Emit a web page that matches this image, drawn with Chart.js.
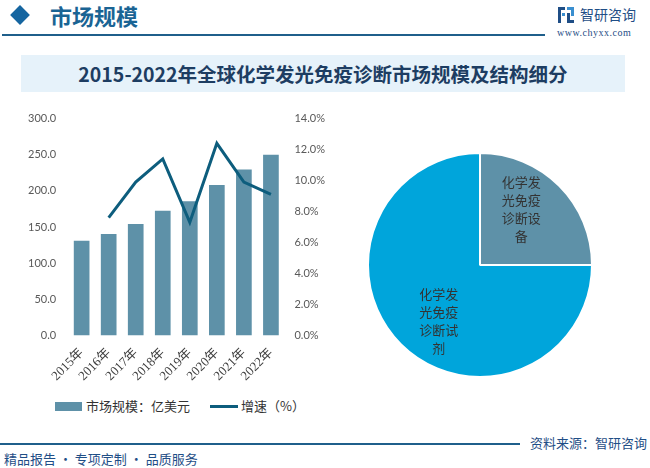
<!DOCTYPE html>
<html>
<head>
<meta charset="utf-8">
<script src="https://cdn.jsdelivr.net/npm/chart.js@4/dist/chart.umd.min.js"></script>
<style>
    body { margin: 0; width: 650px; height: 468px; background: #fff; position: relative; overflow: hidden; font-family: 'Noto Sans CJK SC', sans-serif; }
    .abs { position: absolute; }
    #diamond { left: 13px; top: 8px; width: 14px; height: 14px; background: #1565a0; transform: rotate(45deg); }
    #head { left: 50px; top: 0px; font-size: 22px; font-weight: bold; color: #1a6494; line-height: 30px; }
    #headLine { left: 2px; top: 34px; width: 543px; height: 2px; background: #1f5f8b; }
    #logoText { left: 580px; top: 4px; font-size: 14px; color: #1f4e86; line-height: 20px; }
    #logoUrl { left: 557px; top: 27px; font-size: 10px; font-family: 'Liberation Serif', serif; color: #1f4e86; letter-spacing: 0.5px; }
    #titleBox { left: 21px; top: 55px; width: 604px; height: 37px; background: #e6f2fa; }
    #title { left: 21px; top: 55px; width: 604px; height: 37px; line-height: 37px; text-align: center; font-size: 19.5px; font-weight: bold; color: #1d3d62; }
    #footLine { left: 0px; top: 443px; width: 520px; height: 2px; background: #1f5f8b; }
    #source { left: 530px; top: 433px; font-size: 13px; color: #1f4e86; line-height: 20px; }
    #slogan { left: 4px; top: 450px; font-size: 13px; color: #1f4e86; line-height: 18px; }
    #barWrap { left: 0px; top: 100px; width: 340px; height: 286px; }
    #pieWrap { left: 360px; top: 145px; width: 240px; height: 240px; }
    #legend { left: 55px; top: 396px; font-size: 13px; color: #333; line-height: 18px; white-space: nowrap; }
    #legend span.item { display: inline-block; vertical-align: middle; }
    #legend .box { width: 27px; height: 9px; background: #5e91a8; margin-right: 4px; }
    #legend .line { width: 28px; height: 3px; background: #0d5d7d; margin-left: 20px; margin-right: 3px; }
</style>
</head>
<body>
<div class="abs" id="diamond"></div>
<div class="abs" id="head">市场规模</div>
<div class="abs" id="headLine"></div>
<svg class="abs" style="left:558px;top:7px" width="16" height="16" viewBox="0 0 16 16">
    <rect x="0" y="0" width="7" height="3" fill="#1f4e86"/>
    <rect x="0" y="0" width="3" height="16" fill="#1f4e86"/>
    <rect x="4" y="6" width="3" height="3" fill="#3a8fd0"/>
    <rect x="9" y="0" width="7" height="3" fill="#3a8fd0"/>
    <rect x="13" y="0" width="3" height="9" fill="#3a8fd0"/>
    <rect x="9" y="6" width="3" height="10" fill="#1f4e86"/>
    <rect x="9" y="13" width="7" height="3" fill="#1f4e86"/>
</svg>
<div class="abs" id="logoText">智研咨询</div>
<div class="abs" id="logoUrl">www.chyxx.com</div>
<div class="abs" id="titleBox"></div>
<div class="abs" id="title">2015-2022年全球化学发光免疫诊断市场规模及结构细分</div>
<div class="abs" id="barWrap"><canvas id="barChart"></canvas></div>
<div class="abs" id="legend"></div>
<div class="abs" id="pieWrap"><canvas id="pieChart"></canvas></div>
<div class="abs" id="footLine"></div>
<div class="abs" id="source">资料来源：智研咨询</div>
<div class="abs" id="slogan">精品报告 · 专项定制 · 品质服务</div>

<script>
// 数据
const years = ['2015年', '2016年', '2017年', '2018年', '2019年', '2020年', '2021年', '2022年'];
const marketSize = [130.8, 140.4, 154.1, 172.4, 185.6, 208.0, 229.5, 250.1];   // 亿美元
const growthRate = [null, 0.076, 0.099, 0.114, 0.073, 0.124, 0.099, 0.091];
const seriesNames = ['市场规模：亿美元', '增速（%）'];
const pieNames = ['化学发光免疫诊断设备', '化学发光免疫诊断试剂'];
const pieShares = [25, 75];
const pieLines = [['化学发', '光免疫', '诊断设', '备'], ['化学发', '光免疫', '诊断试', '剂']];

const barColor = '#5e91a8';
const lineColor = '#0d5d7d';
const reagentColor = '#00a5db';
const tickColor = '#595959';

function buildLegend() {
    const el = document.getElementById('legend');
    el.innerHTML = `
        <span class="item box"></span><span class="item">${seriesNames[0]}</span><span class="item line"></span><span class="item">${seriesNames[1]}</span>
    `;
}

function initBarChart() {
    const ctx = document.getElementById('barChart').getContext('2d');
    new Chart(ctx, {
        type: 'bar',
        data: {
            labels: years,
            datasets: [{
                type: 'line',
                label: seriesNames[1],
                data: growthRate,
                yAxisID: 'y1',
                borderColor: lineColor,
                backgroundColor: lineColor,
                borderWidth: 3,
                pointRadius: 0,
                tension: 0
            }, {
                type: 'bar',
                label: seriesNames[0],
                data: marketSize,
                yAxisID: 'y',
                backgroundColor: barColor,
                categoryPercentage: 1,
                barPercentage: 0.58
            }]
        },
        options: {
            responsive: true,
            maintainAspectRatio: false,
            animation: false,
            layout: { padding: { left: 16, right: 5, top: 6, bottom: 0 } },
            scales: {
                x: {
                    grid: { display: false },
                    border: { display: false },
                    ticks: {
                        color: '#404040',
                        autoSkip: false,
                        minRotation: 45,
                        maxRotation: 45,
                        padding: 2,
                        font: { family: "'Liberation Serif', 'Noto Sans CJK SC'", size: 13 }
                    }
                },
                y: {
                    position: 'left',
                    min: 0,
                    max: 300,
                    grid: { display: false, drawTicks: false },
                    border: { display: false },
                    ticks: {
                        stepSize: 50,
                        color: tickColor,
                        padding: 12,
                        font: { family: 'Lato', size: 11 },
                        callback: v => v.toFixed(1)
                    }
                },
                y1: {
                    position: 'right',
                    min: 0,
                    max: 0.14,
                    grid: { display: false, drawTicks: false },
                    border: { display: false },
                    ticks: {
                        stepSize: 0.02,
                        color: tickColor,
                        padding: 10,
                        font: { family: 'Lato', size: 11 },
                        callback: v => (v * 100).toFixed(1) + '%'
                    }
                }
            },
            plugins: {
                tooltip: { enabled: false },
                legend: { display: false }
            }
        }
    });
}

const pieLabelPlugin = {
    id: 'pieLabels',
    afterDatasetsDraw(chart) {
        const ctx = chart.ctx;
        const meta = chart.getDatasetMeta(0);
        ctx.save();
        ctx.font = "13px 'Noto Sans CJK SC'";
        ctx.fillStyle = '#333';
        ctx.textAlign = 'center';
        ctx.textBaseline = 'middle';
        meta.data.forEach((arc, i) => {
            const p = arc.getProps(['x', 'y', 'startAngle', 'endAngle', 'outerRadius'], true);
            const mid = (p.startAngle + p.endAngle) / 2 - 0.15;
            const r = p.outerRadius * 0.62;
            const cx = p.x + Math.cos(mid) * r;
            const cy = p.y + Math.sin(mid) * r;
            const lines = pieLines[i];
            const lh = 18;
            lines.forEach((t, k) => {
                ctx.fillText(t, cx, cy + (k - (lines.length - 1) / 2) * lh);
            });
        });
        ctx.restore();
    }
};

function initPieChart() {
    const ctx = document.getElementById('pieChart').getContext('2d');
    new Chart(ctx, {
        type: 'pie',
        data: {
            labels: pieNames,
            datasets: [{
                data: pieShares,
                backgroundColor: [barColor, reagentColor],
                borderColor: '#fff',
                borderWidth: 2
            }]
        },
        options: {
            responsive: true,
            maintainAspectRatio: false,
            animation: false,
            radius: 112,
            plugins: {
                legend: { display: false },
                tooltip: { enabled: false }
            }
        },
        plugins: [pieLabelPlugin]
    });
}

buildLegend();
initBarChart();
initPieChart();
</script>
</body>
</html>
